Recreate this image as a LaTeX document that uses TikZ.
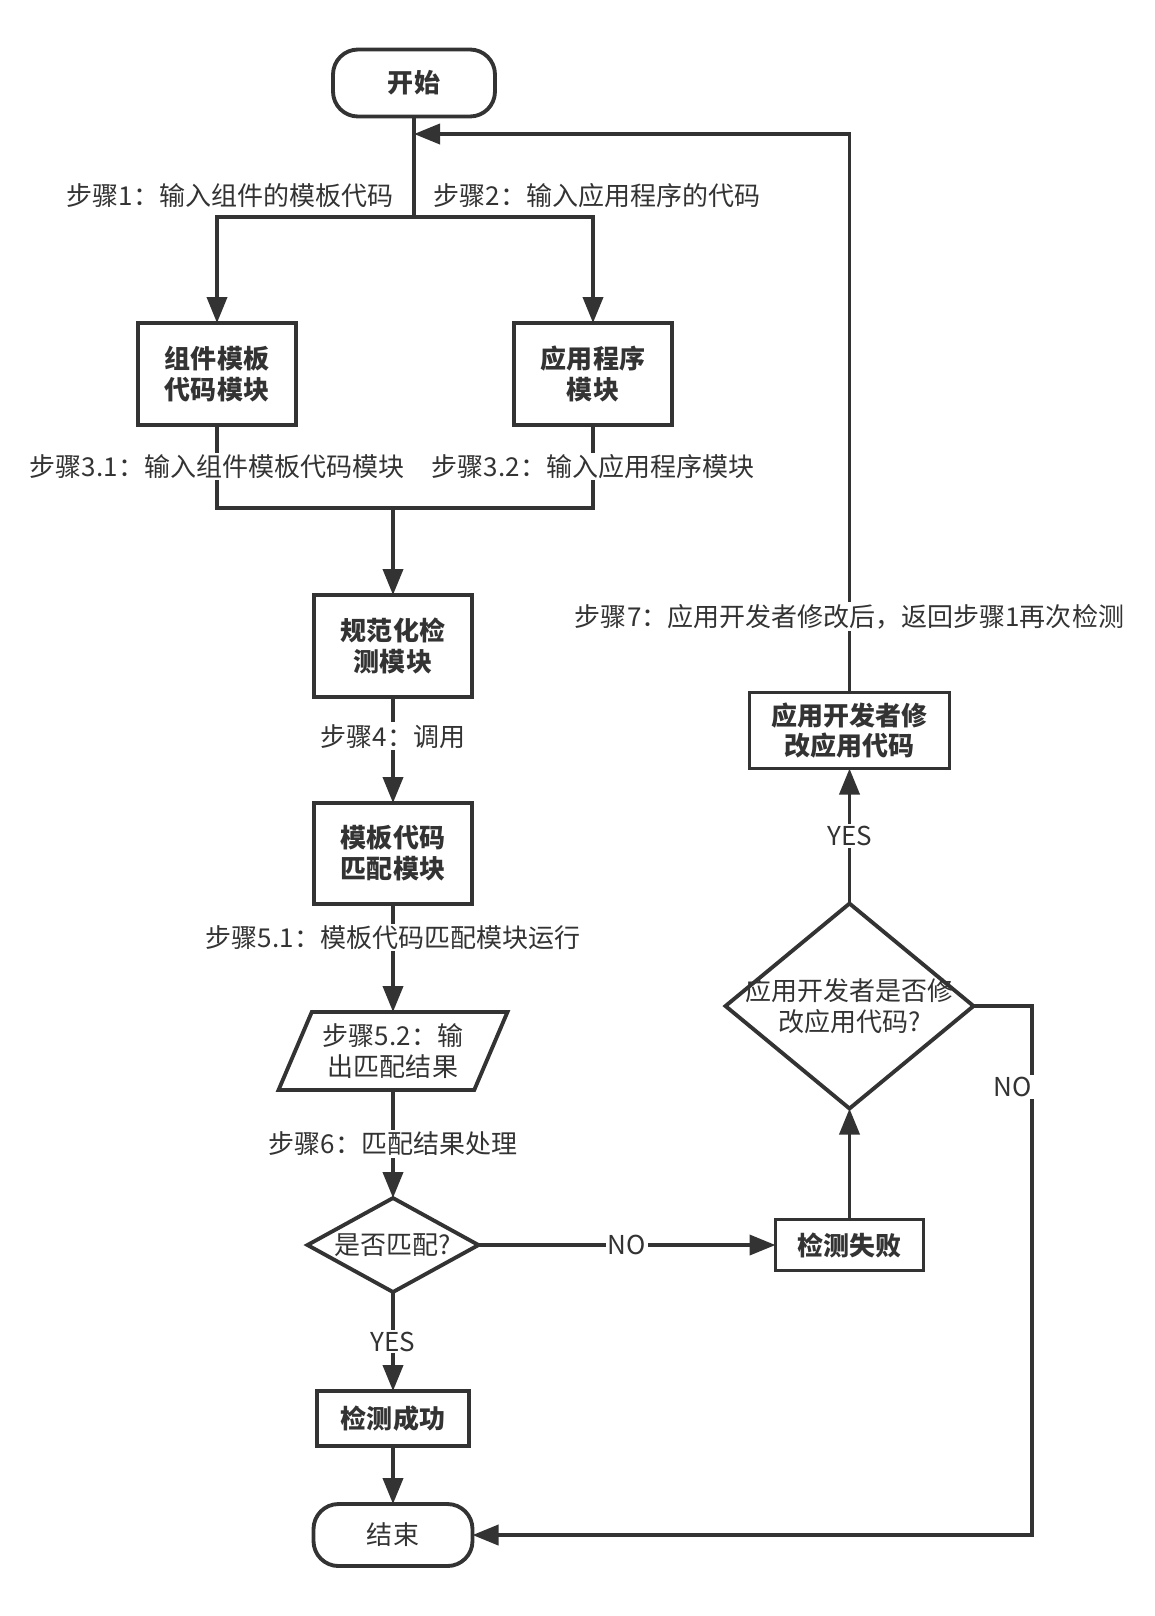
\documentclass[tikz,border=0pt]{standalone}
\usepackage{fontspec}
\setmainfont{Noto Sans CJK SC}
\usepackage{xcolor}
\usepackage{tikz}
\usetikzlibrary{positioning,shapes.geometric,arrows.meta}
\definecolor{darkline}{HTML}{333333}
\newcommand{\nodefont}{\fontsize{14.8}{17.6}\selectfont}

\begin{document}
\begin{tikzpicture}[line width=2.2pt, draw=darkline, text=darkline,
    every node/.style={font=\nodefont, outer sep=0pt},
    box/.style={draw, rectangle, minimum width=3.16cm, minimum height=2.04cm, align=center, font=\nodefont\bfseries},
    term/.style={draw, rounded corners=0.5cm, minimum width=3.2cm, minimum height=1.3cm},
    decision/.style={draw, diamond, inner sep=0pt},
    io/.style={draw, trapezium, trapezium left angle=65, trapezium right angle=115, trapezium stretches, minimum width=4.58cm, minimum height=1.56cm, align=center},
    lab/.style={fill=white, inner sep=1pt},
    flow/.style={-{Triangle[length=0.52cm, width=0.4cm]}}]
    \useasboundingbox (0,0) rectangle (23.08,-32.32);

    % 开始
    \node[term, font=\nodefont\bfseries, minimum width=3.24cm, minimum height=1.34cm] (start) at (8.28,-1.66) {开始};
    \coordinate (back) at (8.28,-2.68);
    \coordinate (split) at (8.28,-4.34);

    % 两个输入模块
    \node[box] (comp) at (4.34,-7.48) {组件模板\\代码模块};
    \node[box] (app) at (11.86,-7.48) {应用程序\\模块};
    \coordinate (merge) at (7.86,-10.16);

    % 主流程
    \node[box] (norm) [below=1.74cm of merge] {规范化检\\测模块};
    \node[box, minimum height=2.02cm] (match) [below=2.12cm of norm] {模板代码\\匹配模块};
    \node[io] (out) [below=2.16cm of match] {步骤5.2：输\\出匹配结果};
    \node[decision, minimum width=3.42cm, minimum height=1.88cm, label={center:是否匹配?}] (matchq) [below=2.16cm of out] {};
    \node[box, minimum width=3.04cm, minimum height=1.10cm] (succ) [below=1.98cm of matchq] {检测成功};
    \node[term, minimum width=3.18cm, minimum height=1.24cm] (end) [below=1.16cm of succ] {结束};

    % 失败分支
    \node[box, minimum width=2.96cm, minimum height=1.02cm] (fail) [right=5.94cm of matchq] {检测失败};
    \node[decision, minimum width=4.96cm, minimum height=4.10cm, label={[align=center]center:应用开发者是否修\\改应用代码?}] (modq) [above=2.22cm of fail] {};
    \node[box, minimum width=4.00cm, minimum height=1.52cm] (modify) [above=2.70cm of modq] {应用开发者修\\改应用代码};
    \coordinate (noright) at (20.64,0);
    \coordinate (noturn) at (modq.east -| noright);

    % 开始 -> 两个输入
    \draw (start) -- node[pos=0.79, left=0.3cm] {步骤1：输入组件的模板代码} node[pos=0.79, right=0.28cm] {步骤2：输入应用程序的代码} (split);
    \draw[flow] (split) -| (comp);
    \draw[flow] (split) -| (app);

    % 汇合
    \draw (comp) -- node[lab] {步骤3.1：输入组件模板代码模块} (comp |- merge) -- (app |- merge) -- node[lab] {步骤3.2：输入应用程序模块} (app);
    \draw[flow] (merge) -- (norm);

    \draw[flow] (norm) -- node[lab, pos=0.37] {步骤4：调用} (match);
    \draw[flow] (match) -- node[lab, pos=0.31] {步骤5.1：模板代码匹配模块运行} (out);
    \draw[flow] (out) -- node[lab] {步骤6：匹配结果处理} (matchq);
    \draw[flow] (matchq) -- node[lab] {YES} (succ);
    \draw[flow] (succ) -- (end);
    \draw[flow] (matchq) -- node[lab] {NO} (fail);

    % 返回
    \draw[flow] (fail) -- (modq);
    \draw[flow] (modq) -- node[lab] {YES} (modify);
    \draw[flow] (modify) -- node[lab, pos=0.136] {步骤7：应用开发者修改后，返回步骤1再次检测} (modify |- back) -- (back);
    \draw[flow] (modq) -- (noturn) -- node[lab, pos=0.153, xshift=-0.38cm] {NO} (noturn |- end) -- (end);
\end{tikzpicture}
\end{document}
